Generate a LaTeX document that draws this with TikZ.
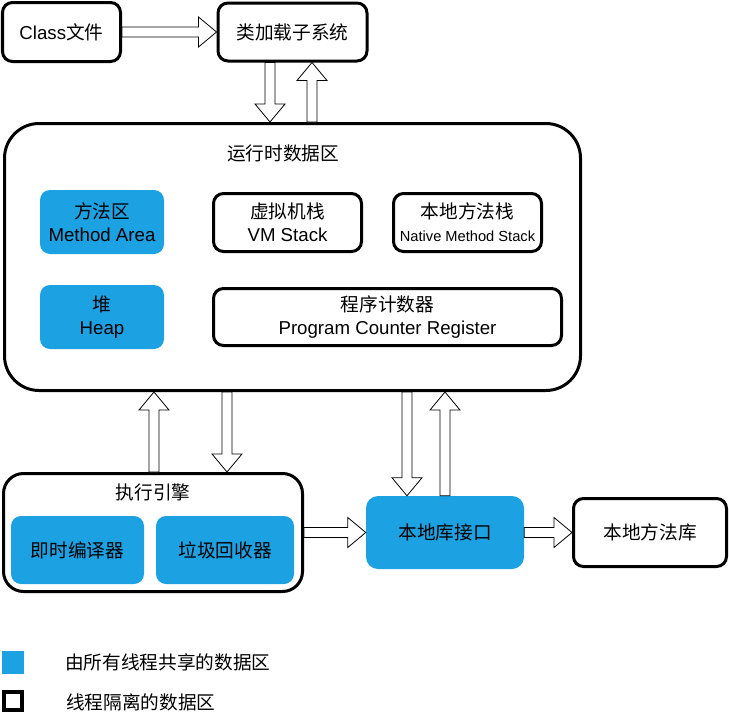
\documentclass[tikz,border=0pt]{standalone}
\usepackage{fontspec}
\setmainfont{Liberation Sans}
\newfontfamily\cjk{Noto Sans CJK SC}
\usepackage{tikz}
\usetikzlibrary{calc,shapes,positioning}
\definecolor{sharedblue}{RGB}{28,161,226}
\newcommand{\diagfont}{\fontsize{14}{17}\selectfont}
\tikzset{%
    block_box/.style={%
        rectangle, rounded corners=7.5pt, draw=black, line width=2.25pt, align=center, inner sep=0pt
    },
    shared_box/.style={%
        rectangle, rounded corners=7.5pt, fill=sharedblue, align=center, inner sep=0pt
    },
    title_txt/.style={%
        font=\diagfont\cjk
    },
    legend_txt/.style={%
        anchor=west, inner sep=0pt, font=\diagfont\cjk
    },
    big_arrow/.style={%
        draw, fill=white, line width=0.6pt, line join=miter,
        to path={%
          ($(\tikztostart)!3.75pt!90:(\tikztotarget)$)
          -- ($($(\tikztotarget)!13.5pt!(\tikztostart)$)!3.75pt!90:(\tikztotarget)$)
          -- ($($(\tikztotarget)!13.5pt!(\tikztostart)$)!11.25pt!90:(\tikztotarget)$)
          -- (\tikztotarget)
          -- ($($(\tikztotarget)!13.5pt!(\tikztostart)$)!11.25pt!-90:(\tikztotarget)$)
          -- ($($(\tikztotarget)!13.5pt!(\tikztostart)$)!3.75pt!-90:(\tikztotarget)$)
          -- ($(\tikztostart)!3.75pt!-90:(\tikztotarget)$) -- cycle
        }
    },
}
\begin{document}
\begin{tikzpicture}[x=0.75pt, y=-0.75pt, font=\diagfont]
      \useasboundingbox (0,0) rectangle (729,714);

      \node[block_box, minimum width=88.5pt, minimum height=44.25pt] (cls) at (61.5,32) {Class{\cjk 文件}};
      \node[block_box, minimum width=111.75pt, minimum height=43.5pt] (loader) at (292.5,32) {\cjk 类加载子系统};

      \node[block_box, rounded corners=26pt, minimum width=432pt, minimum height=200.25pt] (rt) at (292.5,257) {};
      \node[title_txt] (rt_title) at (283,153) {运行时数据区};
      \node[shared_box, minimum width=93pt, minimum height=48pt] (method) at (102,222) {{\cjk 方法区}\\Method Area};
      \node[shared_box, minimum width=93pt, minimum height=48pt] (heap) at (102,317) {{\cjk 堆}\\Heap};
      \node[block_box, minimum width=111pt, minimum height=43.5pt] (vmstack) at (287.5,222.5) {{\cjk 虚拟机栈}\\VM Stack};
      \node[block_box, minimum width=111pt, minimum height=43.5pt] (nstack) at (467.5,222.5) {{\cjk 本地方法栈}\\{\fontsize{11}{13}\selectfont Native Method Stack}};
      \node[block_box, minimum width=261pt, minimum height=42.75pt] (pc) at (387.5,317) {{\cjk 程序计数器}\\Program Counter Register};

      \node[block_box, rounded corners=15pt, minimum width=224.25pt, minimum height=88.5pt] (engine) at (153,532.5) {};
      \node[title_txt] (engine_title) at (153,492) {执行引擎};
      \node[shared_box, minimum width=99.75pt, minimum height=51pt] (jit) at (77.5,550) {\cjk 即时编译器};
      \node[shared_box, minimum width=103.5pt, minimum height=51pt] (gc) at (225,550) {\cjk 垃圾回收器};

      \node[shared_box, rounded corners=9pt, minimum width=118.5pt, minimum height=54.75pt] (nif) at (445,532.5) {\cjk 本地库接口};
      \node[block_box, minimum width=114.75pt, minimum height=51pt] (nlib) at (650,532.5) {\cjk 本地方法库};

      \draw[big_arrow] (cls.east) to (loader.west);
      \draw[big_arrow] (270,0 |- loader.south) to (270,0 |- rt.north);
      \draw[big_arrow] (312,0 |- rt.north) to (312,0 |- loader.south);
      \draw[big_arrow] (154,0 |- engine.north) to (154,0 |- rt.south);
      \draw[big_arrow] (227,0 |- rt.south) to (227,0 |- engine.north);
      \draw[big_arrow] (407,0 |- rt.south) to (407,0 |- nif.north);
      \draw[big_arrow] (445,0 |- nif.north) to (445,0 |- rt.south);
      \draw[big_arrow] (engine.east) to (nif.west);
      \draw[big_arrow] (nif.east) to (nlib.west);

      \node[shared_box, rounded corners=0pt, minimum width=16.5pt, minimum height=17.25pt] (key_shared) at (13,662.5) {};
      \node[block_box, rounded corners=0pt, line width=3pt, minimum width=13.5pt, minimum height=13.5pt] (key_thread) at (13,701) {};
      \node[legend_txt] (key_shared_txt) at (65,662) {由所有线程共享的数据区};
      \node[legend_txt] (key_thread_txt) at (66,702) {线程隔离的数据区};
\end{tikzpicture}
\end{document}
